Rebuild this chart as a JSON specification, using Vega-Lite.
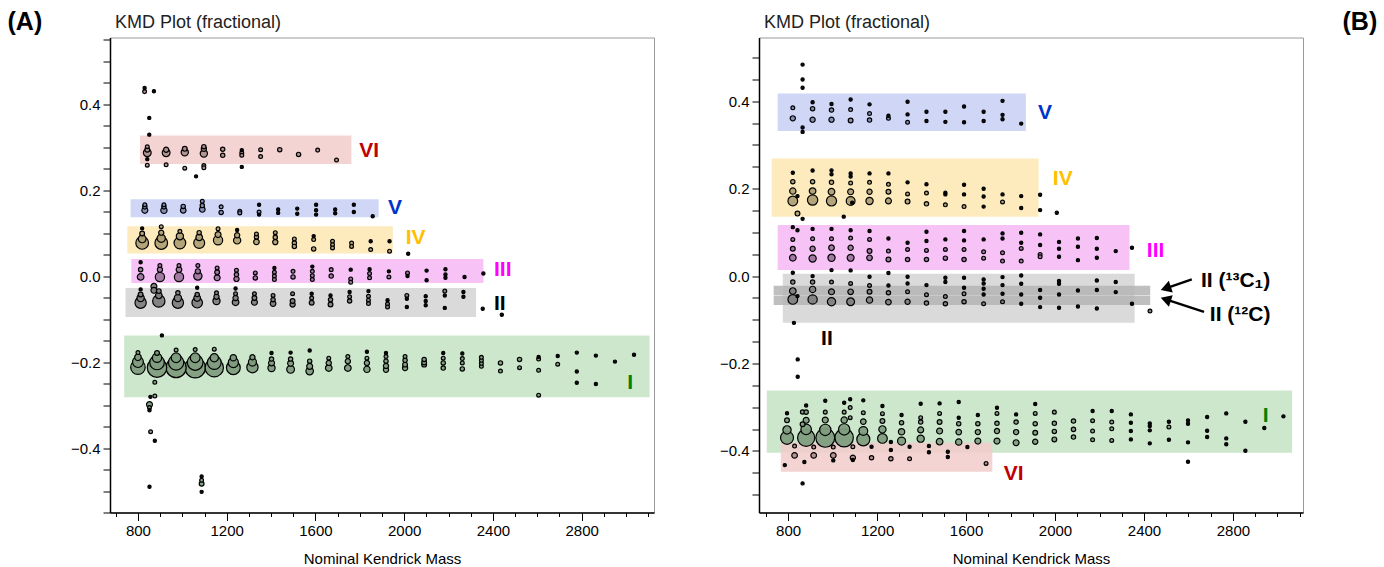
{
"$schema":"https://vega.github.io/schema/vega-lite/v6.json",
"background":"white",
"padding":{"left":6,"top":8.5,"right":4,"bottom":4},
"bounds":"flush",
"spacing":105,
"config":{"view":{"stroke":"#9a9a9a","strokeWidth":1},"font":"Liberation Sans"},
"datasets":{
"bands":[
{"p":"A","s":"I","m":738,"m2":3106,"y":-0.138,"y2":-0.282},
{"p":"A","s":"II","m":744,"m2":2324,"y":-0.0275,"y2":-0.095},
{"p":"A","s":"III","m":770,"m2":2357,"y":0.040,"y2":-0.016},
{"p":"A","s":"IV","m":752,"m2":1949,"y":0.116,"y2":0.0525},
{"p":"A","s":"V","m":767,"m2":1885,"y":0.179,"y2":0.137},
{"p":"A","s":"VI","m":809,"m2":1762,"y":0.327,"y2":0.261},
{"p":"B","s":"I","m":704,"m2":3066,"y":-0.2616,"y2":-0.404},
{"p":"B","s":"VI","m":767,"m2":1718,"y":-0.3813,"y2":-0.4477},
{"p":"B","s":"II","m":776,"m2":2358,"y":0.0055,"y2":-0.1067},
{"p":"B","s":"IIb","m":735,"m2":2428,"y":-0.0221,"y2":-0.0442},
{"p":"B","s":"IIb","m":735,"m2":2428,"y":-0.0458,"y2":-0.0664},
{"p":"B","s":"III","m":753,"m2":2335,"y":0.1167,"y2":0.0137},
{"p":"B","s":"IV","m":726,"m2":1926,"y":0.269,"y2":0.136},
{"p":"B","s":"V","m":753,"m2":1869,"y":0.418,"y2":0.332}
],
"labels":[
{"p":"A","s":"VI","t":"VI","m":1797,"y":0.290},
{"p":"A","s":"V","t":"V","m":1927,"y":0.158},
{"p":"A","s":"IV","t":"IV","m":2007,"y":0.089},
{"p":"A","s":"III","t":"III","m":2405,"y":0.015},
{"p":"A","s":"II","t":"II","m":2405,"y":-0.066},
{"p":"A","s":"I","t":"I","m":3005,"y":-0.249},
{"p":"B","s":"V","t":"V","m":1923,"y":0.374},
{"p":"B","s":"IV","t":"IV","m":1990,"y":0.223},
{"p":"B","s":"III","t":"III","m":2413,"y":0.0565},
{"p":"B","s":"II","t":"II","m":948,"y":-0.145},
{"p":"B","s":"I","t":"I","m":2934,"y":-0.32},
{"p":"B","s":"VI","t":"VI","m":1770,"y":-0.454}
],
"notes":[
{"p":"B","t":"II (¹³C₁)","m":2656,"y":-0.012},
{"p":"B","t":"II (¹²C)","m":2696,"y":-0.088}
],
"arrows":[
{"p":"B","m":2615,"y":-0.0076,"m2":2498,"y2":-0.0281},
{"p":"B","m":2670,"y":-0.0819,"m2":2498,"y2":-0.0533}
],
"heads":[
{"p":"B","h":"a","m":2498,"y":-0.0281},
{"p":"B","h":"b","m":2498,"y":-0.0533}
],
"pts":[
{"p":"A","s":"I","m":800,"y":-0.212,"v":50},{"p":"A","s":"I","m":800,"y":-0.200,"v":28},{"p":"A","s":"I","m":800,"y":-0.189,"v":10},{"p":"A","s":"I","m":800,"y":-0.178,"v":3},
{"p":"A","s":"I","m":886,"y":-0.213,"v":90},{"p":"A","s":"I","m":886,"y":-0.201,"v":50},{"p":"A","s":"I","m":886,"y":-0.190,"v":20},{"p":"A","s":"I","m":886,"y":-0.179,"v":5},
{"p":"A","s":"I","m":972,"y":-0.213,"v":96},{"p":"A","s":"I","m":972,"y":-0.201,"v":55},{"p":"A","s":"I","m":972,"y":-0.190,"v":22},{"p":"A","s":"I","m":972,"y":-0.172,"v":3},
{"p":"A","s":"I","m":1058,"y":-0.213,"v":100},{"p":"A","s":"I","m":1058,"y":-0.201,"v":58},{"p":"A","s":"I","m":1058,"y":-0.190,"v":22},{"p":"A","s":"I","m":1058,"y":-0.171,"v":3},
{"p":"A","s":"I","m":1144,"y":-0.213,"v":80},{"p":"A","s":"I","m":1144,"y":-0.201,"v":45},{"p":"A","s":"I","m":1144,"y":-0.190,"v":16},{"p":"A","s":"I","m":1144,"y":-0.170,"v":3},
{"p":"A","s":"I","m":1230,"y":-0.213,"v":45},{"p":"A","s":"I","m":1230,"y":-0.201,"v":24},{"p":"A","s":"I","m":1230,"y":-0.190,"v":9},
{"p":"A","s":"I","m":1316,"y":-0.212,"v":30},{"p":"A","s":"I","m":1316,"y":-0.200,"v":15},{"p":"A","s":"I","m":1316,"y":-0.189,"v":6},
{"p":"A","s":"I","m":1402,"y":-0.214,"v":12},{"p":"A","s":"I","m":1402,"y":-0.202,"v":8},{"p":"A","s":"I","m":1402,"y":-0.193,"v":4},{"p":"A","s":"I","m":1402,"y":-0.179,"v":2},
{"p":"A","s":"I","m":1488,"y":-0.217,"v":14},{"p":"A","s":"I","m":1488,"y":-0.203,"v":8},{"p":"A","s":"I","m":1488,"y":-0.193,"v":4},{"p":"A","s":"I","m":1488,"y":-0.178,"v":2},
{"p":"A","s":"I","m":1574,"y":-0.221,"v":13},{"p":"A","s":"I","m":1574,"y":-0.210,"v":8},{"p":"A","s":"I","m":1574,"y":-0.198,"v":4},{"p":"A","s":"I","m":1574,"y":-0.173,"v":2},
{"p":"A","s":"I","m":1660,"y":-0.214,"v":10},{"p":"A","s":"I","m":1660,"y":-0.202,"v":6},{"p":"A","s":"I","m":1660,"y":-0.191,"v":3},
{"p":"A","s":"I","m":1746,"y":-0.214,"v":10},{"p":"A","s":"I","m":1746,"y":-0.198,"v":6},{"p":"A","s":"I","m":1746,"y":-0.187,"v":3},
{"p":"A","s":"I","m":1832,"y":-0.217,"v":9},{"p":"A","s":"I","m":1832,"y":-0.202,"v":6},{"p":"A","s":"I","m":1832,"y":-0.191,"v":3},{"p":"A","s":"I","m":1832,"y":-0.176,"v":2},
{"p":"A","s":"I","m":1918,"y":-0.218,"v":6},{"p":"A","s":"I","m":1918,"y":-0.209,"v":6},{"p":"A","s":"I","m":1918,"y":-0.198,"v":4},{"p":"A","s":"I","m":1918,"y":-0.187,"v":3},{"p":"A","s":"I","m":1918,"y":-0.179,"v":2},
{"p":"A","s":"I","m":2004,"y":-0.214,"v":6},{"p":"A","s":"I","m":2004,"y":-0.206,"v":5},{"p":"A","s":"I","m":2004,"y":-0.196,"v":4},{"p":"A","s":"I","m":2004,"y":-0.187,"v":3},
{"p":"A","s":"I","m":2090,"y":-0.206,"v":5},{"p":"A","s":"I","m":2090,"y":-0.201,"v":5},{"p":"A","s":"I","m":2090,"y":-0.194,"v":4},
{"p":"A","s":"I","m":2176,"y":-0.214,"v":4},{"p":"A","s":"I","m":2176,"y":-0.202,"v":4},{"p":"A","s":"I","m":2176,"y":-0.191,"v":3},{"p":"A","s":"I","m":2176,"y":-0.179,"v":2},
{"p":"A","s":"I","m":2262,"y":-0.216,"v":4},{"p":"A","s":"I","m":2262,"y":-0.202,"v":3},{"p":"A","s":"I","m":2262,"y":-0.192,"v":3},{"p":"A","s":"I","m":2262,"y":-0.180,"v":2},
{"p":"A","s":"I","m":2348,"y":-0.210,"v":3},{"p":"A","s":"I","m":2348,"y":-0.203,"v":3},{"p":"A","s":"I","m":2348,"y":-0.196,"v":3},{"p":"A","s":"I","m":2348,"y":-0.189,"v":3},
{"p":"A","s":"I","m":2434,"y":-0.221,"v":3},{"p":"A","s":"I","m":2434,"y":-0.202,"v":4},
{"p":"A","s":"I","m":2520,"y":-0.213,"v":3},{"p":"A","s":"I","m":2520,"y":-0.194,"v":4},
{"p":"A","s":"I","m":2606,"y":-0.219,"v":3},{"p":"A","s":"I","m":2606,"y":-0.193,"v":3},{"p":"A","s":"I","m":2606,"y":-0.188,"v":2},{"p":"A","s":"I","m":2606,"y":-0.277,"v":3},
{"p":"A","s":"I","m":2692,"y":-0.205,"v":3},{"p":"A","s":"I","m":2692,"y":-0.186,"v":2},
{"p":"A","s":"I","m":2778,"y":-0.222,"v":2},{"p":"A","s":"I","m":2778,"y":-0.178,"v":2},{"p":"A","s":"I","m":2778,"y":-0.248,"v":2},
{"p":"A","s":"I","m":2864,"y":-0.185,"v":2},{"p":"A","s":"I","m":2864,"y":-0.251,"v":2},
{"p":"A","s":"I","m":2950,"y":-0.199,"v":2},
{"p":"A","s":"I","m":3036,"y":-0.183,"v":2},
{"p":"A","s":"I","m":908,"y":-0.138,"v":2},{"p":"A","s":"I","m":876,"y":-0.247,"v":3},{"p":"A","s":"I","m":856,"y":-0.281,"v":2},{"p":"A","s":"I","m":876,"y":-0.279,"v":3},
{"p":"A","s":"I","m":852,"y":-0.299,"v":8},{"p":"A","s":"I","m":852,"y":-0.306,"v":3},{"p":"A","s":"I","m":852,"y":-0.312,"v":2},{"p":"A","s":"I","m":857,"y":-0.362,"v":3},
{"p":"A","s":"I","m":876,"y":-0.383,"v":2},{"p":"A","s":"I","m":852,"y":-0.490,"v":2},{"p":"A","s":"I","m":1087,"y":-0.466,"v":2},{"p":"A","s":"I","m":1087,"y":-0.475,"v":3},
{"p":"A","s":"I","m":1087,"y":-0.483,"v":5},{"p":"A","s":"I","m":1087,"y":-0.502,"v":2},
{"p":"A","s":"VI","m":830,"y":0.4376,"v":2},{"p":"A","s":"VI","m":830,"y":0.4291,"v":3},{"p":"A","s":"VI","m":872,"y":0.430,"v":2},{"p":"A","s":"VI","m":851,"y":0.368,"v":2},{"p":"A","s":"VI","m":851,"y":0.329,"v":2},
{"p":"A","s":"VI","m":842,"y":0.301,"v":3},{"p":"A","s":"VI","m":842,"y":0.294,"v":5},{"p":"A","s":"VI","m":842,"y":0.287,"v":14},{"p":"A","s":"VI","m":842,"y":0.272,"v":2},{"p":"A","s":"VI","m":842,"y":0.258,"v":3},
{"p":"A","s":"VI","m":927,"y":0.294,"v":6},{"p":"A","s":"VI","m":927,"y":0.287,"v":14},{"p":"A","s":"VI","m":927,"y":0.259,"v":3},
{"p":"A","s":"VI","m":1011,"y":0.296,"v":5},{"p":"A","s":"VI","m":1011,"y":0.288,"v":12},{"p":"A","s":"VI","m":1011,"y":0.251,"v":3},
{"p":"A","s":"VI","m":1097,"y":0.301,"v":4},{"p":"A","s":"VI","m":1097,"y":0.296,"v":6},{"p":"A","s":"VI","m":1097,"y":0.285,"v":12},{"p":"A","s":"VI","m":1097,"y":0.257,"v":3},{"p":"A","s":"VI","m":1097,"y":0.252,"v":3},
{"p":"A","s":"VI","m":1062,"y":0.232,"v":2},
{"p":"A","s":"VI","m":1182,"y":0.295,"v":4},{"p":"A","s":"VI","m":1182,"y":0.281,"v":4},
{"p":"A","s":"VI","m":1268,"y":0.293,"v":2},{"p":"A","s":"VI","m":1268,"y":0.287,"v":3},{"p":"A","s":"VI","m":1268,"y":0.281,"v":3},{"p":"A","s":"VI","m":1268,"y":0.254,"v":2},
{"p":"A","s":"VI","m":1353,"y":0.294,"v":3},{"p":"A","s":"VI","m":1353,"y":0.278,"v":3},
{"p":"A","s":"VI","m":1439,"y":0.294,"v":4},
{"p":"A","s":"VI","m":1524,"y":0.283,"v":4},
{"p":"A","s":"VI","m":1610,"y":0.293,"v":3},
{"p":"A","s":"VI","m":1695,"y":0.270,"v":3},
{"p":"A","s":"V","m":831,"y":0.166,"v":3},{"p":"A","s":"V","m":831,"y":0.161,"v":4},{"p":"A","s":"V","m":831,"y":0.153,"v":8},
{"p":"A","s":"V","m":917,"y":0.166,"v":3},{"p":"A","s":"V","m":917,"y":0.161,"v":4},{"p":"A","s":"V","m":917,"y":0.153,"v":9},
{"p":"A","s":"V","m":1004,"y":0.162,"v":4},{"p":"A","s":"V","m":1004,"y":0.153,"v":7},
{"p":"A","s":"V","m":1090,"y":0.174,"v":3},{"p":"A","s":"V","m":1090,"y":0.164,"v":4},{"p":"A","s":"V","m":1090,"y":0.155,"v":7},
{"p":"A","s":"V","m":1175,"y":0.161,"v":3},{"p":"A","s":"V","m":1175,"y":0.148,"v":4},
{"p":"A","s":"V","m":1259,"y":0.151,"v":3},{"p":"A","s":"V","m":1259,"y":0.147,"v":3},
{"p":"A","s":"V","m":1346,"y":0.166,"v":2},{"p":"A","s":"V","m":1346,"y":0.149,"v":3},{"p":"A","s":"V","m":1346,"y":0.143,"v":2},
{"p":"A","s":"V","m":1432,"y":0.155,"v":2},{"p":"A","s":"V","m":1432,"y":0.147,"v":2},
{"p":"A","s":"V","m":1518,"y":0.157,"v":2},{"p":"A","s":"V","m":1518,"y":0.145,"v":2},
{"p":"A","s":"V","m":1603,"y":0.166,"v":2},{"p":"A","s":"V","m":1603,"y":0.153,"v":2},{"p":"A","s":"V","m":1603,"y":0.143,"v":2},
{"p":"A","s":"V","m":1689,"y":0.155,"v":2},{"p":"A","s":"V","m":1689,"y":0.146,"v":2},
{"p":"A","s":"V","m":1773,"y":0.166,"v":2},{"p":"A","s":"V","m":1773,"y":0.149,"v":2},
{"p":"A","s":"V","m":1858,"y":0.139,"v":2},
{"p":"A","s":"IV","m":819,"y":0.111,"v":2},{"p":"A","s":"IV","m":819,"y":0.099,"v":5},{"p":"A","s":"IV","m":819,"y":0.0866,"v":14},{"p":"A","s":"IV","m":819,"y":0.0771,"v":38},
{"p":"A","s":"IV","m":905,"y":0.115,"v":3},{"p":"A","s":"IV","m":905,"y":0.101,"v":6},{"p":"A","s":"IV","m":905,"y":0.088,"v":16},{"p":"A","s":"IV","m":905,"y":0.077,"v":38},
{"p":"A","s":"IV","m":989,"y":0.104,"v":3},{"p":"A","s":"IV","m":989,"y":0.0927,"v":12},{"p":"A","s":"IV","m":989,"y":0.077,"v":32},
{"p":"A","s":"IV","m":1076,"y":0.101,"v":4},{"p":"A","s":"IV","m":1076,"y":0.090,"v":10},{"p":"A","s":"IV","m":1076,"y":0.077,"v":28},
{"p":"A","s":"IV","m":1161,"y":0.110,"v":3},{"p":"A","s":"IV","m":1161,"y":0.0965,"v":8},{"p":"A","s":"IV","m":1161,"y":0.0834,"v":20},
{"p":"A","s":"IV","m":1247,"y":0.107,"v":2},{"p":"A","s":"IV","m":1247,"y":0.095,"v":6},{"p":"A","s":"IV","m":1247,"y":0.083,"v":12},
{"p":"A","s":"IV","m":1334,"y":0.098,"v":3},{"p":"A","s":"IV","m":1334,"y":0.0911,"v":4},{"p":"A","s":"IV","m":1334,"y":0.0795,"v":7},
{"p":"A","s":"IV","m":1419,"y":0.101,"v":3},{"p":"A","s":"IV","m":1419,"y":0.090,"v":4},{"p":"A","s":"IV","m":1419,"y":0.079,"v":6},
{"p":"A","s":"IV","m":1505,"y":0.0865,"v":3},{"p":"A","s":"IV","m":1505,"y":0.077,"v":4},{"p":"A","s":"IV","m":1505,"y":0.069,"v":4},
{"p":"A","s":"IV","m":1592,"y":0.093,"v":2},{"p":"A","s":"IV","m":1592,"y":0.085,"v":3},{"p":"A","s":"IV","m":1592,"y":0.0632,"v":4},
{"p":"A","s":"IV","m":1677,"y":0.081,"v":3},{"p":"A","s":"IV","m":1677,"y":0.073,"v":3},{"p":"A","s":"IV","m":1677,"y":0.0655,"v":3},
{"p":"A","s":"IV","m":1763,"y":0.077,"v":3},{"p":"A","s":"IV","m":1763,"y":0.069,"v":3},
{"p":"A","s":"IV","m":1849,"y":0.081,"v":2},{"p":"A","s":"IV","m":1849,"y":0.0617,"v":3},
{"p":"A","s":"IV","m":1934,"y":0.081,"v":2},{"p":"A","s":"IV","m":1934,"y":0.058,"v":3},
{"p":"A","s":"IV","m":2018,"y":0.052,"v":2},
{"p":"A","s":"III","m":812,"y":0.032,"v":2},{"p":"A","s":"III","m":812,"y":0.015,"v":4},{"p":"A","s":"III","m":812,"y":-0.002,"v":10},
{"p":"A","s":"III","m":899,"y":0.0245,"v":3},{"p":"A","s":"III","m":899,"y":0.015,"v":6},{"p":"A","s":"III","m":899,"y":-0.002,"v":20},
{"p":"A","s":"III","m":985,"y":0.0245,"v":3},{"p":"A","s":"III","m":985,"y":0.015,"v":7},{"p":"A","s":"III","m":985,"y":-0.002,"v":20},
{"p":"A","s":"III","m":1070,"y":0.0245,"v":3},{"p":"A","s":"III","m":1070,"y":0.011,"v":6},{"p":"A","s":"III","m":1070,"y":0.0,"v":16},
{"p":"A","s":"III","m":1157,"y":0.019,"v":3},{"p":"A","s":"III","m":1157,"y":0.009,"v":5},{"p":"A","s":"III","m":1157,"y":-0.004,"v":8},
{"p":"A","s":"III","m":1244,"y":0.0135,"v":3},{"p":"A","s":"III","m":1244,"y":0.0035,"v":4},{"p":"A","s":"III","m":1244,"y":-0.0066,"v":6},
{"p":"A","s":"III","m":1329,"y":0.0074,"v":3},{"p":"A","s":"III","m":1329,"y":-0.0043,"v":4},
{"p":"A","s":"III","m":1415,"y":0.019,"v":2},{"p":"A","s":"III","m":1415,"y":0.009,"v":3},{"p":"A","s":"III","m":1415,"y":0.0,"v":3},{"p":"A","s":"III","m":1415,"y":-0.008,"v":3},
{"p":"A","s":"III","m":1499,"y":0.011,"v":3},{"p":"A","s":"III","m":1499,"y":-0.002,"v":4},
{"p":"A","s":"III","m":1586,"y":0.022,"v":2},{"p":"A","s":"III","m":1586,"y":0.011,"v":3},{"p":"A","s":"III","m":1586,"y":0.001,"v":3},{"p":"A","s":"III","m":1586,"y":-0.008,"v":3},
{"p":"A","s":"III","m":1671,"y":0.015,"v":3},{"p":"A","s":"III","m":1671,"y":0.0,"v":4},
{"p":"A","s":"III","m":1759,"y":0.015,"v":2},{"p":"A","s":"III","m":1759,"y":-0.0066,"v":3},{"p":"A","s":"III","m":1759,"y":-0.0143,"v":3},
{"p":"A","s":"III","m":1844,"y":0.016,"v":2},{"p":"A","s":"III","m":1844,"y":0.006,"v":3},{"p":"A","s":"III","m":1844,"y":-0.004,"v":3},
{"p":"A","s":"III","m":1931,"y":0.011,"v":2},{"p":"A","s":"III","m":1931,"y":-0.002,"v":3},
{"p":"A","s":"III","m":2015,"y":0.0074,"v":3},{"p":"A","s":"III","m":2015,"y":0.0,"v":2},
{"p":"A","s":"III","m":2101,"y":0.0127,"v":2},{"p":"A","s":"III","m":2101,"y":-0.0096,"v":2},
{"p":"A","s":"III","m":2186,"y":0.016,"v":2},{"p":"A","s":"III","m":2186,"y":0.0035,"v":2},{"p":"A","s":"III","m":2186,"y":-0.004,"v":2},
{"p":"A","s":"III","m":2272,"y":-0.002,"v":2},
{"p":"A","s":"III","m":2357,"y":0.006,"v":2},
{"p":"A","s":"II","m":812,"y":-0.031,"v":2},{"p":"A","s":"II","m":812,"y":-0.043,"v":5},{"p":"A","s":"II","m":812,"y":-0.051,"v":12},{"p":"A","s":"II","m":812,"y":-0.062,"v":30},
{"p":"A","s":"II","m":872,"y":-0.024,"v":8},{"p":"A","s":"II","m":872,"y":-0.033,"v":8},
{"p":"A","s":"II","m":894,"y":-0.035,"v":5},{"p":"A","s":"II","m":894,"y":-0.045,"v":10},{"p":"A","s":"II","m":894,"y":-0.058,"v":36},
{"p":"A","s":"II","m":980,"y":-0.039,"v":4},{"p":"A","s":"II","m":980,"y":-0.051,"v":12},{"p":"A","s":"II","m":980,"y":-0.062,"v":30},
{"p":"A","s":"II","m":1067,"y":-0.027,"v":2},{"p":"A","s":"II","m":1067,"y":-0.043,"v":4},{"p":"A","s":"II","m":1067,"y":-0.051,"v":10},{"p":"A","s":"II","m":1067,"y":-0.062,"v":26},
{"p":"A","s":"II","m":1154,"y":-0.039,"v":3},{"p":"A","s":"II","m":1154,"y":-0.048,"v":6},{"p":"A","s":"II","m":1154,"y":-0.058,"v":12},
{"p":"A","s":"II","m":1240,"y":-0.029,"v":2},{"p":"A","s":"II","m":1240,"y":-0.041,"v":3},{"p":"A","s":"II","m":1240,"y":-0.051,"v":6},{"p":"A","s":"II","m":1240,"y":-0.061,"v":10},
{"p":"A","s":"II","m":1325,"y":-0.041,"v":3},{"p":"A","s":"II","m":1325,"y":-0.051,"v":5},{"p":"A","s":"II","m":1325,"y":-0.061,"v":8},
{"p":"A","s":"II","m":1409,"y":-0.045,"v":3},{"p":"A","s":"II","m":1409,"y":-0.055,"v":4},{"p":"A","s":"II","m":1409,"y":-0.064,"v":7},
{"p":"A","s":"II","m":1497,"y":-0.041,"v":3},{"p":"A","s":"II","m":1497,"y":-0.058,"v":5},{"p":"A","s":"II","m":1497,"y":-0.066,"v":6},
{"p":"A","s":"II","m":1583,"y":-0.041,"v":2},{"p":"A","s":"II","m":1583,"y":-0.051,"v":3},{"p":"A","s":"II","m":1583,"y":-0.062,"v":5},
{"p":"A","s":"II","m":1668,"y":-0.045,"v":2},{"p":"A","s":"II","m":1668,"y":-0.055,"v":4},{"p":"A","s":"II","m":1668,"y":-0.066,"v":5},
{"p":"A","s":"II","m":1754,"y":-0.037,"v":2},{"p":"A","s":"II","m":1754,"y":-0.048,"v":3},{"p":"A","s":"II","m":1754,"y":-0.058,"v":4},
{"p":"A","s":"II","m":1839,"y":-0.035,"v":2},{"p":"A","s":"II","m":1839,"y":-0.047,"v":3},{"p":"A","s":"II","m":1839,"y":-0.056,"v":3},{"p":"A","s":"II","m":1839,"y":-0.064,"v":3},
{"p":"A","s":"II","m":1925,"y":-0.056,"v":2},{"p":"A","s":"II","m":1925,"y":-0.065,"v":3},{"p":"A","s":"II","m":1925,"y":-0.072,"v":3},
{"p":"A","s":"II","m":2012,"y":-0.045,"v":3},{"p":"A","s":"II","m":2012,"y":-0.053,"v":2},{"p":"A","s":"II","m":2012,"y":-0.072,"v":2},
{"p":"A","s":"II","m":2097,"y":-0.047,"v":2},{"p":"A","s":"II","m":2097,"y":-0.058,"v":2},{"p":"A","s":"II","m":2097,"y":-0.068,"v":2},
{"p":"A","s":"II","m":2183,"y":-0.035,"v":3},{"p":"A","s":"II","m":2183,"y":-0.045,"v":2},{"p":"A","s":"II","m":2183,"y":-0.074,"v":2},
{"p":"A","s":"II","m":2267,"y":-0.037,"v":2},{"p":"A","s":"II","m":2267,"y":-0.048,"v":2},
{"p":"A","s":"II","m":2354,"y":-0.076,"v":2},{"p":"A","s":"II","m":2440,"y":-0.090,"v":2},
{"p":"B","s":"V","m":821,"y":0.385,"v":3},{"p":"B","s":"V","m":821,"y":0.361,"v":6},
{"p":"B","s":"V","m":865,"y":0.484,"v":2},{"p":"B","s":"V","m":865,"y":0.450,"v":2},{"p":"B","s":"V","m":865,"y":0.431,"v":2},{"p":"B","s":"V","m":865,"y":0.340,"v":2},{"p":"B","s":"V","m":865,"y":0.330,"v":2},
{"p":"B","s":"V","m":910,"y":0.398,"v":2},{"p":"B","s":"V","m":910,"y":0.383,"v":4},{"p":"B","s":"V","m":910,"y":0.358,"v":6},
{"p":"B","s":"V","m":995,"y":0.394,"v":2},{"p":"B","s":"V","m":995,"y":0.380,"v":4},{"p":"B","s":"V","m":995,"y":0.358,"v":6},
{"p":"B","s":"V","m":1081,"y":0.404,"v":2},{"p":"B","s":"V","m":1081,"y":0.381,"v":3},{"p":"B","s":"V","m":1081,"y":0.356,"v":5},
{"p":"B","s":"V","m":1166,"y":0.393,"v":2},{"p":"B","s":"V","m":1166,"y":0.372,"v":3},{"p":"B","s":"V","m":1166,"y":0.357,"v":4},
{"p":"B","s":"V","m":1251,"y":0.367,"v":2},{"p":"B","s":"V","m":1251,"y":0.361,"v":3},
{"p":"B","s":"V","m":1337,"y":0.399,"v":2},{"p":"B","s":"V","m":1337,"y":0.370,"v":2},{"p":"B","s":"V","m":1337,"y":0.352,"v":3},
{"p":"B","s":"V","m":1422,"y":0.376,"v":2},{"p":"B","s":"V","m":1422,"y":0.355,"v":2},
{"p":"B","s":"V","m":1507,"y":0.376,"v":2},{"p":"B","s":"V","m":1507,"y":0.353,"v":2},
{"p":"B","s":"V","m":1591,"y":0.388,"v":2},{"p":"B","s":"V","m":1591,"y":0.352,"v":2},
{"p":"B","s":"V","m":1679,"y":0.376,"v":2},{"p":"B","s":"V","m":1679,"y":0.355,"v":2},
{"p":"B","s":"V","m":1764,"y":0.401,"v":2},{"p":"B","s":"V","m":1764,"y":0.369,"v":2},{"p":"B","s":"V","m":1764,"y":0.359,"v":2},
{"p":"B","s":"V","m":1848,"y":0.349,"v":2},
{"p":"B","s":"IV","m":821,"y":0.2366,"v":2},{"p":"B","s":"IV","m":821,"y":0.216,"v":4},{"p":"B","s":"IV","m":821,"y":0.1945,"v":9},{"p":"B","s":"IV","m":821,"y":0.172,"v":22},
{"p":"B","s":"IV","m":842,"y":0.183,"v":2},{"p":"B","s":"IV","m":842,"y":0.143,"v":5},{"p":"B","s":"IV","m":865,"y":0.131,"v":2},
{"p":"B","s":"IV","m":910,"y":0.2415,"v":2},{"p":"B","s":"IV","m":910,"y":0.216,"v":4},{"p":"B","s":"IV","m":910,"y":0.1945,"v":10},{"p":"B","s":"IV","m":910,"y":0.174,"v":25},
{"p":"B","s":"IV","m":995,"y":0.242,"v":2},{"p":"B","s":"IV","m":995,"y":0.233,"v":2},{"p":"B","s":"IV","m":995,"y":0.2145,"v":4},{"p":"B","s":"IV","m":995,"y":0.193,"v":10},{"p":"B","s":"IV","m":995,"y":0.172,"v":24},
{"p":"B","s":"IV","m":1081,"y":0.235,"v":2},{"p":"B","s":"IV","m":1081,"y":0.228,"v":2},{"p":"B","s":"IV","m":1081,"y":0.213,"v":3},{"p":"B","s":"IV","m":1081,"y":0.193,"v":8},{"p":"B","s":"IV","m":1081,"y":0.172,"v":18},
{"p":"B","s":"IV","m":1050,"y":0.136,"v":2},{"p":"B","s":"IV","m":1088,"y":0.168,"v":2},
{"p":"B","s":"IV","m":1166,"y":0.235,"v":2},{"p":"B","s":"IV","m":1166,"y":0.2145,"v":3},{"p":"B","s":"IV","m":1166,"y":0.193,"v":6},{"p":"B","s":"IV","m":1166,"y":0.172,"v":12},
{"p":"B","s":"IV","m":1251,"y":0.235,"v":2},{"p":"B","s":"IV","m":1251,"y":0.210,"v":3},{"p":"B","s":"IV","m":1251,"y":0.193,"v":5},{"p":"B","s":"IV","m":1251,"y":0.172,"v":8},
{"p":"B","s":"IV","m":1337,"y":0.2145,"v":2},{"p":"B","s":"IV","m":1337,"y":0.188,"v":3},{"p":"B","s":"IV","m":1337,"y":0.1705,"v":5},
{"p":"B","s":"IV","m":1422,"y":0.210,"v":2},{"p":"B","s":"IV","m":1422,"y":0.190,"v":3},{"p":"B","s":"IV","m":1422,"y":0.1653,"v":4},
{"p":"B","s":"IV","m":1507,"y":0.1907,"v":2},{"p":"B","s":"IV","m":1507,"y":0.187,"v":2},{"p":"B","s":"IV","m":1507,"y":0.163,"v":3},
{"p":"B","s":"IV","m":1591,"y":0.209,"v":2},{"p":"B","s":"IV","m":1591,"y":0.187,"v":2},{"p":"B","s":"IV","m":1591,"y":0.159,"v":3},
{"p":"B","s":"IV","m":1679,"y":0.200,"v":2},{"p":"B","s":"IV","m":1679,"y":0.182,"v":2},{"p":"B","s":"IV","m":1679,"y":0.159,"v":2},
{"p":"B","s":"IV","m":1764,"y":0.187,"v":2},{"p":"B","s":"IV","m":1764,"y":0.1697,"v":3},
{"p":"B","s":"IV","m":1848,"y":0.183,"v":2},{"p":"B","s":"IV","m":1848,"y":0.156,"v":2},
{"p":"B","s":"IV","m":1933,"y":0.186,"v":2},{"p":"B","s":"IV","m":1933,"y":0.151,"v":2},
{"p":"B","s":"IV","m":2008,"y":0.1449,"v":2},
{"p":"B","s":"III","m":821,"y":0.112,"v":2},{"p":"B","s":"III","m":821,"y":0.084,"v":3},{"p":"B","s":"III","m":821,"y":0.0626,"v":5},{"p":"B","s":"III","m":821,"y":0.0419,"v":10},
{"p":"B","s":"III","m":842,"y":0.105,"v":2},
{"p":"B","s":"III","m":910,"y":0.108,"v":2},{"p":"B","s":"III","m":910,"y":0.0855,"v":3},{"p":"B","s":"III","m":910,"y":0.0626,"v":6},{"p":"B","s":"III","m":910,"y":0.0404,"v":12},
{"p":"B","s":"III","m":995,"y":0.108,"v":2},{"p":"B","s":"III","m":995,"y":0.0855,"v":3},{"p":"B","s":"III","m":995,"y":0.0649,"v":7},{"p":"B","s":"III","m":995,"y":0.0419,"v":12},
{"p":"B","s":"III","m":1081,"y":0.105,"v":2},{"p":"B","s":"III","m":1081,"y":0.087,"v":3},{"p":"B","s":"III","m":1081,"y":0.0649,"v":6},{"p":"B","s":"III","m":1081,"y":0.0419,"v":11},
{"p":"B","s":"III","m":1166,"y":0.103,"v":2},{"p":"B","s":"III","m":1166,"y":0.084,"v":3},{"p":"B","s":"III","m":1166,"y":0.0572,"v":5},{"p":"B","s":"III","m":1166,"y":0.0419,"v":7},
{"p":"B","s":"III","m":1251,"y":0.086,"v":2},{"p":"B","s":"III","m":1251,"y":0.0572,"v":3},{"p":"B","s":"III","m":1251,"y":0.038,"v":5},
{"p":"B","s":"III","m":1337,"y":0.0763,"v":2},{"p":"B","s":"III","m":1337,"y":0.061,"v":3},{"p":"B","s":"III","m":1337,"y":0.038,"v":4},
{"p":"B","s":"III","m":1422,"y":0.1015,"v":2},{"p":"B","s":"III","m":1422,"y":0.0802,"v":2},{"p":"B","s":"III","m":1422,"y":0.0588,"v":3},{"p":"B","s":"III","m":1422,"y":0.038,"v":4},
{"p":"B","s":"III","m":1507,"y":0.084,"v":2},{"p":"B","s":"III","m":1507,"y":0.061,"v":3},{"p":"B","s":"III","m":1507,"y":0.041,"v":4},
{"p":"B","s":"III","m":1591,"y":0.103,"v":2},{"p":"B","s":"III","m":1591,"y":0.0817,"v":2},{"p":"B","s":"III","m":1591,"y":0.061,"v":3},{"p":"B","s":"III","m":1591,"y":0.038,"v":4},
{"p":"B","s":"III","m":1679,"y":0.084,"v":2},{"p":"B","s":"III","m":1679,"y":0.0557,"v":3},{"p":"B","s":"III","m":1679,"y":0.041,"v":3},
{"p":"B","s":"III","m":1764,"y":0.0977,"v":2},{"p":"B","s":"III","m":1764,"y":0.086,"v":2},{"p":"B","s":"III","m":1764,"y":0.0534,"v":3},{"p":"B","s":"III","m":1764,"y":0.0343,"v":3},
{"p":"B","s":"III","m":1848,"y":0.0992,"v":2},{"p":"B","s":"III","m":1848,"y":0.0763,"v":2},{"p":"B","s":"III","m":1848,"y":0.0633,"v":3},{"p":"B","s":"III","m":1848,"y":0.0343,"v":3},
{"p":"B","s":"III","m":1933,"y":0.0954,"v":2},{"p":"B","s":"III","m":1933,"y":0.071,"v":2},{"p":"B","s":"III","m":1933,"y":0.0496,"v":3},{"p":"B","s":"III","m":1933,"y":0.0443,"v":3},
{"p":"B","s":"III","m":2018,"y":0.0779,"v":2},{"p":"B","s":"III","m":2018,"y":0.0626,"v":2},{"p":"B","s":"III","m":2018,"y":0.0443,"v":2},
{"p":"B","s":"III","m":2103,"y":0.086,"v":2},{"p":"B","s":"III","m":2103,"y":0.0672,"v":2},{"p":"B","s":"III","m":2103,"y":0.0365,"v":2},
{"p":"B","s":"III","m":2188,"y":0.087,"v":2},{"p":"B","s":"III","m":2188,"y":0.0626,"v":2},{"p":"B","s":"III","m":2188,"y":0.0419,"v":2},
{"p":"B","s":"III","m":2273,"y":0.0572,"v":2},
{"p":"B","s":"III","m":2346,"y":0.0649,"v":2},
{"p":"B","s":"II","m":821,"y":0.0077,"v":2},{"p":"B","s":"II","m":821,"y":-0.0137,"v":4},{"p":"B","s":"II","m":821,"y":-0.0343,"v":10},{"p":"B","s":"II","m":821,"y":-0.0534,"v":22},
{"p":"B","s":"II","m":842,"y":-0.0458,"v":2},{"p":"B","s":"II","m":826,"y":-0.107,"v":2},
{"p":"B","s":"II","m":910,"y":0.0,"v":2},{"p":"B","s":"II","m":910,"y":-0.0137,"v":4},{"p":"B","s":"II","m":910,"y":-0.0305,"v":9},{"p":"B","s":"II","m":910,"y":-0.0534,"v":20},
{"p":"B","s":"II","m":995,"y":0.0137,"v":2},{"p":"B","s":"II","m":995,"y":-0.0137,"v":3},{"p":"B","s":"II","m":995,"y":-0.0359,"v":8},{"p":"B","s":"II","m":995,"y":-0.0587,"v":16},
{"p":"B","s":"II","m":1081,"y":0.013,"v":2},{"p":"B","s":"II","m":1081,"y":-0.0168,"v":3},{"p":"B","s":"II","m":1081,"y":-0.0359,"v":7},{"p":"B","s":"II","m":1081,"y":-0.0587,"v":14},
{"p":"B","s":"II","m":1166,"y":-0.0015,"v":2},{"p":"B","s":"II","m":1166,"y":-0.0214,"v":3},{"p":"B","s":"II","m":1166,"y":-0.0359,"v":5},{"p":"B","s":"II","m":1166,"y":-0.0549,"v":9},
{"p":"B","s":"II","m":1251,"y":0.007,"v":2},{"p":"B","s":"II","m":1251,"y":-0.0214,"v":2},{"p":"B","s":"II","m":1251,"y":-0.0381,"v":4},{"p":"B","s":"II","m":1251,"y":-0.0595,"v":7},
{"p":"B","s":"II","m":1337,"y":-0.0015,"v":2},{"p":"B","s":"II","m":1337,"y":-0.0168,"v":2},{"p":"B","s":"II","m":1337,"y":-0.0359,"v":3},{"p":"B","s":"II","m":1337,"y":-0.0587,"v":6},
{"p":"B","s":"II","m":1422,"y":-0.0206,"v":2},{"p":"B","s":"II","m":1422,"y":-0.0427,"v":3},{"p":"B","s":"II","m":1422,"y":-0.0618,"v":4},
{"p":"B","s":"II","m":1507,"y":-0.0038,"v":2},{"p":"B","s":"II","m":1507,"y":-0.0137,"v":2},{"p":"B","s":"II","m":1507,"y":-0.0466,"v":3},{"p":"B","s":"II","m":1507,"y":-0.0633,"v":4},
{"p":"B","s":"II","m":1591,"y":-0.0038,"v":2},{"p":"B","s":"II","m":1591,"y":-0.0267,"v":2},{"p":"B","s":"II","m":1591,"y":-0.0404,"v":3},{"p":"B","s":"II","m":1591,"y":-0.0587,"v":4},
{"p":"B","s":"II","m":1679,"y":-0.0076,"v":2},{"p":"B","s":"II","m":1679,"y":-0.0168,"v":2},{"p":"B","s":"II","m":1679,"y":-0.029,"v":2},{"p":"B","s":"II","m":1679,"y":-0.042,"v":2},{"p":"B","s":"II","m":1679,"y":-0.0633,"v":3},
{"p":"B","s":"II","m":1764,"y":-0.0023,"v":2},{"p":"B","s":"II","m":1764,"y":-0.0206,"v":2},{"p":"B","s":"II","m":1764,"y":-0.0404,"v":2},{"p":"B","s":"II","m":1764,"y":-0.0587,"v":3},
{"p":"B","s":"II","m":1848,"y":0.0015,"v":2},{"p":"B","s":"II","m":1848,"y":-0.0176,"v":2},{"p":"B","s":"II","m":1848,"y":-0.042,"v":2},{"p":"B","s":"II","m":1848,"y":-0.0633,"v":2},
{"p":"B","s":"II","m":1933,"y":-0.032,"v":2},{"p":"B","s":"II","m":1933,"y":-0.0496,"v":2},{"p":"B","s":"II","m":1933,"y":-0.071,"v":2},
{"p":"B","s":"II","m":2018,"y":-0.0114,"v":2},{"p":"B","s":"II","m":2018,"y":-0.0176,"v":2},{"p":"B","s":"II","m":2018,"y":-0.042,"v":2},{"p":"B","s":"II","m":2018,"y":-0.0725,"v":2},
{"p":"B","s":"II","m":2103,"y":-0.0328,"v":2},{"p":"B","s":"II","m":2103,"y":-0.0694,"v":2},
{"p":"B","s":"II","m":2188,"y":-0.0099,"v":2},{"p":"B","s":"II","m":2188,"y":-0.032,"v":2},{"p":"B","s":"II","m":2188,"y":-0.074,"v":2},
{"p":"B","s":"II","m":2273,"y":-0.0137,"v":2},{"p":"B","s":"II","m":2273,"y":-0.0366,"v":2},
{"p":"B","s":"II","m":2346,"y":-0.0633,"v":2},{"p":"B","s":"II","m":2427,"y":-0.080,"v":3},
{"p":"B","s":"I","m":795,"y":-0.314,"v":2},{"p":"B","s":"I","m":795,"y":-0.330,"v":5},{"p":"B","s":"I","m":795,"y":-0.352,"v":16},{"p":"B","s":"I","m":795,"y":-0.370,"v":40},
{"p":"B","s":"I","m":843,"y":-0.1906,"v":2},{"p":"B","s":"I","m":843,"y":-0.2303,"v":2},{"p":"B","s":"I","m":865,"y":-0.4744,"v":2},
{"p":"B","s":"I","m":865,"y":-0.311,"v":4},{"p":"B","s":"I","m":865,"y":-0.339,"v":5},
{"p":"B","s":"I","m":881,"y":-0.296,"v":2},{"p":"B","s":"I","m":881,"y":-0.3113,"v":4},{"p":"B","s":"I","m":881,"y":-0.330,"v":8},{"p":"B","s":"I","m":881,"y":-0.3508,"v":26},{"p":"B","s":"I","m":881,"y":-0.370,"v":70},
{"p":"B","s":"I","m":967,"y":-0.2852,"v":2},{"p":"B","s":"I","m":967,"y":-0.3113,"v":3},{"p":"B","s":"I","m":967,"y":-0.3294,"v":8},{"p":"B","s":"I","m":967,"y":-0.352,"v":30},{"p":"B","s":"I","m":967,"y":-0.370,"v":85},
{"p":"B","s":"I","m":1052,"y":-0.2898,"v":2},{"p":"B","s":"I","m":1052,"y":-0.3113,"v":3},{"p":"B","s":"I","m":1052,"y":-0.3294,"v":9},{"p":"B","s":"I","m":1052,"y":-0.3508,"v":30},{"p":"B","s":"I","m":1052,"y":-0.370,"v":80},
{"p":"B","s":"I","m":1079,"y":-0.282,"v":2},{"p":"B","s":"I","m":1079,"y":-0.301,"v":3},{"p":"B","s":"I","m":1079,"y":-0.324,"v":3},
{"p":"B","s":"I","m":1138,"y":-0.2844,"v":2},{"p":"B","s":"I","m":1138,"y":-0.3126,"v":3},{"p":"B","s":"I","m":1138,"y":-0.333,"v":7},{"p":"B","s":"I","m":1138,"y":-0.3546,"v":18},{"p":"B","s":"I","m":1138,"y":-0.3737,"v":40},
{"p":"B","s":"I","m":1224,"y":-0.2974,"v":2},{"p":"B","s":"I","m":1224,"y":-0.3148,"v":3},{"p":"B","s":"I","m":1224,"y":-0.3317,"v":5},{"p":"B","s":"I","m":1224,"y":-0.3508,"v":12},{"p":"B","s":"I","m":1224,"y":-0.3714,"v":22},
{"p":"B","s":"I","m":1310,"y":-0.318,"v":2},{"p":"B","s":"I","m":1310,"y":-0.3355,"v":4},{"p":"B","s":"I","m":1310,"y":-0.3562,"v":9},{"p":"B","s":"I","m":1310,"y":-0.3775,"v":15},
{"p":"B","s":"I","m":1396,"y":-0.292,"v":2},{"p":"B","s":"I","m":1396,"y":-0.324,"v":3},{"p":"B","s":"I","m":1396,"y":-0.334,"v":4},{"p":"B","s":"I","m":1396,"y":-0.352,"v":8},{"p":"B","s":"I","m":1396,"y":-0.372,"v":12},
{"p":"B","s":"I","m":1481,"y":-0.2913,"v":2},{"p":"B","s":"I","m":1481,"y":-0.3142,"v":3},{"p":"B","s":"I","m":1481,"y":-0.334,"v":5},{"p":"B","s":"I","m":1481,"y":-0.3546,"v":8},{"p":"B","s":"I","m":1481,"y":-0.379,"v":10},
{"p":"B","s":"I","m":1567,"y":-0.288,"v":2},{"p":"B","s":"I","m":1567,"y":-0.324,"v":2},{"p":"B","s":"I","m":1567,"y":-0.3378,"v":4},{"p":"B","s":"I","m":1567,"y":-0.357,"v":7},{"p":"B","s":"I","m":1567,"y":-0.3798,"v":9},
{"p":"B","s":"I","m":1653,"y":-0.318,"v":2},{"p":"B","s":"I","m":1653,"y":-0.3378,"v":4},{"p":"B","s":"I","m":1653,"y":-0.357,"v":6},{"p":"B","s":"I","m":1653,"y":-0.3775,"v":8},
{"p":"B","s":"I","m":1739,"y":-0.3012,"v":2},{"p":"B","s":"I","m":1739,"y":-0.3142,"v":3},{"p":"B","s":"I","m":1739,"y":-0.337,"v":4},{"p":"B","s":"I","m":1739,"y":-0.3546,"v":6},{"p":"B","s":"I","m":1739,"y":-0.3775,"v":8},
{"p":"B","s":"I","m":1825,"y":-0.3165,"v":2},{"p":"B","s":"I","m":1825,"y":-0.334,"v":4},{"p":"B","s":"I","m":1825,"y":-0.357,"v":6},{"p":"B","s":"I","m":1825,"y":-0.3813,"v":8},
{"p":"B","s":"I","m":1911,"y":-0.2928,"v":2},{"p":"B","s":"I","m":1911,"y":-0.3142,"v":3},{"p":"B","s":"I","m":1911,"y":-0.3378,"v":4},{"p":"B","s":"I","m":1911,"y":-0.3584,"v":5},{"p":"B","s":"I","m":1911,"y":-0.379,"v":6},
{"p":"B","s":"I","m":1997,"y":-0.3113,"v":3},{"p":"B","s":"I","m":1997,"y":-0.337,"v":4},{"p":"B","s":"I","m":1997,"y":-0.3554,"v":4},{"p":"B","s":"I","m":1997,"y":-0.3737,"v":5},
{"p":"B","s":"I","m":2083,"y":-0.3317,"v":4},{"p":"B","s":"I","m":2083,"y":-0.3508,"v":4},{"p":"B","s":"I","m":2083,"y":-0.3684,"v":4},
{"p":"B","s":"I","m":2169,"y":-0.3088,"v":2},{"p":"B","s":"I","m":2169,"y":-0.3309,"v":3},{"p":"B","s":"I","m":2169,"y":-0.3546,"v":3},{"p":"B","s":"I","m":2169,"y":-0.3745,"v":3},
{"p":"B","s":"I","m":2255,"y":-0.3088,"v":2},{"p":"B","s":"I","m":2255,"y":-0.334,"v":3},{"p":"B","s":"I","m":2255,"y":-0.3493,"v":3},{"p":"B","s":"I","m":2255,"y":-0.376,"v":3},
{"p":"B","s":"I","m":2341,"y":-0.3165,"v":2},{"p":"B","s":"I","m":2341,"y":-0.3355,"v":2},{"p":"B","s":"I","m":2341,"y":-0.3546,"v":2},{"p":"B","s":"I","m":2341,"y":-0.3737,"v":2},
{"p":"B","s":"I","m":2426,"y":-0.337,"v":2},{"p":"B","s":"I","m":2426,"y":-0.343,"v":2},{"p":"B","s":"I","m":2426,"y":-0.353,"v":2},{"p":"B","s":"I","m":2426,"y":-0.3828,"v":2},
{"p":"B","s":"I","m":2512,"y":-0.3332,"v":2},{"p":"B","s":"I","m":2512,"y":-0.3454,"v":3},{"p":"B","s":"I","m":2512,"y":-0.3745,"v":2},
{"p":"B","s":"I","m":2598,"y":-0.3301,"v":2},{"p":"B","s":"I","m":2598,"y":-0.3378,"v":2},{"p":"B","s":"I","m":2598,"y":-0.3805,"v":2},{"p":"B","s":"I","m":2598,"y":-0.4248,"v":2},
{"p":"B","s":"I","m":2684,"y":-0.3225,"v":2},{"p":"B","s":"I","m":2684,"y":-0.3538,"v":2},{"p":"B","s":"I","m":2684,"y":-0.3684,"v":2},
{"p":"B","s":"I","m":2770,"y":-0.3142,"v":2},{"p":"B","s":"I","m":2770,"y":-0.3714,"v":2},{"p":"B","s":"I","m":2770,"y":-0.385,"v":2},
{"p":"B","s":"I","m":2856,"y":-0.3332,"v":2},{"p":"B","s":"I","m":2856,"y":-0.3996,"v":2},
{"p":"B","s":"I","m":2941,"y":-0.3477,"v":2},
{"p":"B","s":"I","m":3027,"y":-0.321,"v":2},
{"p":"B","s":"VI","m":785,"y":-0.4325,"v":2},
{"p":"B","s":"VI","m":829,"y":-0.389,"v":3},{"p":"B","s":"VI","m":829,"y":-0.4103,"v":7},{"p":"B","s":"VI","m":873,"y":-0.4256,"v":2},
{"p":"B","s":"VI","m":915,"y":-0.3913,"v":3},{"p":"B","s":"VI","m":915,"y":-0.4103,"v":7},
{"p":"B","s":"VI","m":1003,"y":-0.3913,"v":3},{"p":"B","s":"VI","m":1003,"y":-0.4103,"v":7},{"p":"B","s":"VI","m":1003,"y":-0.4218,"v":2},
{"p":"B","s":"VI","m":1091,"y":-0.3905,"v":3},{"p":"B","s":"VI","m":1091,"y":-0.4157,"v":6},{"p":"B","s":"VI","m":1091,"y":-0.421,"v":2},
{"p":"B","s":"VI","m":1175,"y":-0.3905,"v":2},{"p":"B","s":"VI","m":1175,"y":-0.4157,"v":4},
{"p":"B","s":"VI","m":1262,"y":-0.3797,"v":2},{"p":"B","s":"VI","m":1262,"y":-0.398,"v":2},{"p":"B","s":"VI","m":1262,"y":-0.418,"v":4},
{"p":"B","s":"VI","m":1346,"y":-0.3905,"v":2},{"p":"B","s":"VI","m":1346,"y":-0.418,"v":3},
{"p":"B","s":"VI","m":1433,"y":-0.389,"v":2},{"p":"B","s":"VI","m":1433,"y":-0.403,"v":2},
{"p":"B","s":"VI","m":1518,"y":-0.402,"v":2},{"p":"B","s":"VI","m":1518,"y":-0.414,"v":2},
{"p":"B","s":"VI","m":1606,"y":-0.3913,"v":2},
{"p":"B","s":"VI","m":1690,"y":-0.4287,"v":3}
]
},
"hconcat":[
{
"width":544,"height":475,
"title":{"text":"KMD Plot (fractional)","anchor":"start","frame":"group","offset":-22,"dx":5,"fontSize":18,"fontWeight":"normal","font":"Liberation Sans","color":"#222222"},
"encoding":{
"x":{"field":"m","type":"quantitative","scale":{"domain":[674,3126],"nice":false,"zero":false},
"axis":{"title":"Nominal Kendrick Mass","values":[700,800,900,1000,1100,1200,1300,1400,1500,1600,1700,1800,1900,2000,2100,2200,2300,2400,2500,2600,2700,2800,2900,3000,3100],"labelExpr":"datum.value % 400 === 0 ? format(datum.value,'d') : ''","tickSize":{"condition":{"test":"datum.value % 400 === 0","value":8},"value":4},"grid":false,"domainColor":"black","domainWidth":1.5,"tickColor":"black","labelColor":"black","labelFont":"Liberation Sans","labelFontSize":15,"labelPadding":3,"labelFlush":false,"titleFont":"Liberation Sans","titleFontSize":15,"titleFontWeight":"normal","titleColor":"black","titlePadding":13}},
"y":{"field":"y","type":"quantitative","scale":{"domain":[-0.55,0.555],"nice":false,"zero":false},
"axis":{"title":"(A)","titleAngle":0,"titleX":-103,"titleY":-16,"titleAlign":"left","titleBaseline":"middle","titleFont":"Liberation Sans","titleFontSize":25,"titleFontWeight":"bold","titleColor":"black","values":[-0.55,-0.5,-0.45,-0.4,-0.35,-0.3,-0.25,-0.2,-0.15,-0.1,-0.05,0,0.05,0.1,0.15,0.2,0.25,0.3,0.35,0.4,0.45,0.5,0.55],"labelExpr":"abs(round(datum.value*100)) % 20 === 0 ? format(datum.value,'.1f') : ''","tickSize":7,"grid":false,"domainColor":"black","domainWidth":1.5,"tickColor":"black","labelColor":"black","labelFont":"Liberation Sans","labelFontSize":15,"labelPadding":3}}
},
"layer":[
{"data":{"name":"bands"},"transform":[{"filter":"datum.p==='A'"}],"mark":{"type":"rect","fillOpacity":0.85,"strokeWidth":0},
"encoding":{"x2":{"field":"m2"},"y2":{"field":"y2"},"fill":{"field":"s","type":"nominal","scale":{"domain":["I","II","IIb","III","IV","V","VI"],"range":["#c4e3c4","#d3d3d3","#b4b4b4","#f6b9f6","#fde8b3","#c7cff4","#f2cbcb"]},"legend":null}}},
{"data":{"name":"pts"},"transform":[{"filter":"datum.p==='A'"}],"mark":{"type":"point","shape":"circle","filled":true,"stroke":"black","strokeWidth":1.2,"fillOpacity":0.95},
"encoding":{"fill":{"condition":{"test":"datum.v <= 2","value":"black"},"field":"s","type":"nominal","scale":{"domain":["I","II","III","IV","V","VI"],"range":["#809d80","#808080","#9e769e","#afa075","#838cb0","#b08f8f"]},"legend":null},"size":{"field":"v","type":"quantitative","scale":{"domain":[0,100],"range":[2,420]},"legend":null},"order":{"field":"v","type":"quantitative","sort":"descending"}}},
{"data":{"name":"labels"},"transform":[{"filter":"datum.p==='A'"}],"mark":{"type":"text","align":"left","baseline":"middle","fontSize":21,"fontWeight":"bold","font":"Liberation Sans"},
"encoding":{"text":{"field":"t"},"color":{"field":"s","type":"nominal","scale":{"domain":["I","II","III","IV","V","VI"],"range":["#008000","#000000","#ff00ff","#ffc000","#0033cc","#c00000"]},"legend":null}}}
],
"resolve":{"scale":{"fill":"independent","color":"independent"}}
},
{
"width":544,"height":475,
"title":{"text":"KMD Plot (fractional)","anchor":"start","frame":"group","offset":-22,"dx":5,"fontSize":18,"fontWeight":"normal","font":"Liberation Sans","color":"#222222"},
"encoding":{
"x":{"field":"m","type":"quantitative","scale":{"domain":[669,3115],"nice":false,"zero":false},
"axis":{"title":"Nominal Kendrick Mass","values":[700,800,900,1000,1100,1200,1300,1400,1500,1600,1700,1800,1900,2000,2100,2200,2300,2400,2500,2600,2700,2800,2900,3000,3100],"labelExpr":"datum.value % 400 === 0 ? format(datum.value,'d') : ''","tickSize":{"condition":{"test":"datum.value % 400 === 0","value":8},"value":4},"grid":false,"domainColor":"black","domainWidth":1.5,"tickColor":"black","labelColor":"black","labelFont":"Liberation Sans","labelFontSize":15,"labelPadding":3,"labelFlush":false,"titleFont":"Liberation Sans","titleFontSize":15,"titleFontWeight":"normal","titleColor":"black","titlePadding":13}},
"y":{"field":"y","type":"quantitative","scale":{"domain":[-0.541,0.546],"nice":false,"zero":false},
"axis":{"title":"(B)","titleAngle":0,"titleX":583,"titleY":-16,"titleAlign":"left","titleBaseline":"middle","titleFont":"Liberation Sans","titleFontSize":25,"titleFontWeight":"bold","titleColor":"black","values":[-0.5,-0.45,-0.4,-0.35,-0.3,-0.25,-0.2,-0.15,-0.1,-0.05,0,0.05,0.1,0.15,0.2,0.25,0.3,0.35,0.4,0.45,0.5],"labelExpr":"abs(round(datum.value*100)) % 20 === 0 ? format(datum.value,'.1f') : ''","tickSize":7,"grid":false,"domainColor":"black","domainWidth":1.5,"tickColor":"black","labelColor":"black","labelFont":"Liberation Sans","labelFontSize":15,"labelPadding":3}}
},
"layer":[
{"data":{"name":"bands"},"transform":[{"filter":"datum.p==='B'"}],"mark":{"type":"rect","fillOpacity":0.85,"strokeWidth":0},
"encoding":{"x2":{"field":"m2"},"y2":{"field":"y2"},"fill":{"field":"s","type":"nominal","scale":{"domain":["I","II","IIb","III","IV","V","VI"],"range":["#c4e3c4","#d3d3d3","#b4b4b4","#f6b9f6","#fde8b3","#c7cff4","#f2cbcb"]},"legend":null}}},
{"data":{"name":"pts"},"transform":[{"filter":"datum.p==='B'"}],"mark":{"type":"point","shape":"circle","filled":true,"stroke":"black","strokeWidth":1.2,"fillOpacity":0.95},
"encoding":{"fill":{"condition":{"test":"datum.v <= 2","value":"black"},"field":"s","type":"nominal","scale":{"domain":["I","II","III","IV","V","VI"],"range":["#809d80","#808080","#9e769e","#afa075","#838cb0","#b08f8f"]},"legend":null},"size":{"field":"v","type":"quantitative","scale":{"domain":[0,100],"range":[2,420]},"legend":null},"order":{"field":"v","type":"quantitative","sort":"descending"}}},
{"data":{"name":"labels"},"transform":[{"filter":"datum.p==='B'"}],"mark":{"type":"text","align":"left","baseline":"middle","fontSize":21,"fontWeight":"bold","font":"Liberation Sans"},
"encoding":{"text":{"field":"t"},"color":{"field":"s","type":"nominal","scale":{"domain":["I","II","III","IV","V","VI"],"range":["#008000","#000000","#ff00ff","#ffc000","#0033cc","#c00000"]},"legend":null}}},
{"data":{"name":"notes"},"mark":{"type":"text","align":"left","baseline":"middle","fontSize":21,"fontWeight":"bold","font":"Liberation Sans","color":"black"},
"encoding":{"text":{"field":"t"}}},
{"data":{"name":"arrows"},"mark":{"type":"rule","strokeWidth":2.5,"color":"black"},
"encoding":{"x2":{"field":"m2"},"y2":{"field":"y2"}}},
{"data":{"name":"heads"},"mark":{"type":"point","shape":"triangle-up","filled":true,"color":"black","size":150,"opacity":1},
"encoding":{"angle":{"condition":{"test":"datum.h==='a'","value":251},"value":288}}}
],
"resolve":{"scale":{"fill":"independent","color":"independent"}}
}
]
}
